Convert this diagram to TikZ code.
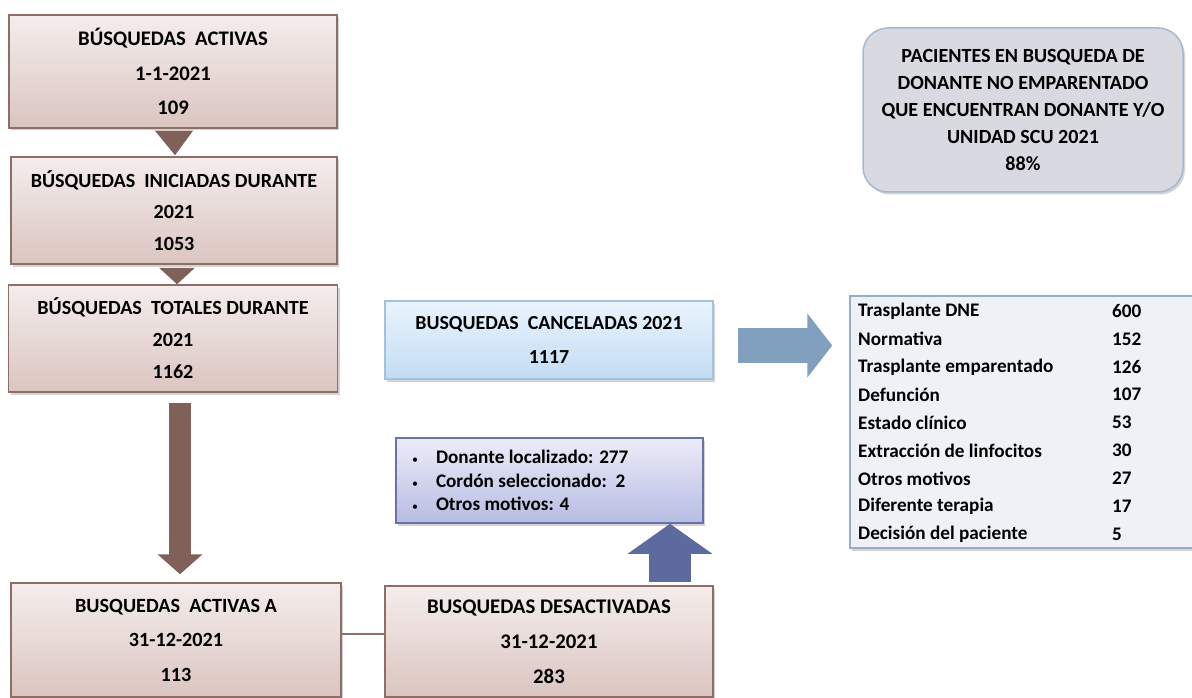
\documentclass[tikz,border=0pt]{standalone}
\usepackage{fontspec}
\setmainfont{Carlito}
\usetikzlibrary{calc,shadows,arrows.meta,positioning}

\definecolor{brtop}{HTML}{F4EDEC}
\definecolor{brbot}{HTML}{DBC5C0}
\definecolor{brline}{HTML}{8E6F68}
\definecolor{brarrow}{HTML}{7F615A}
\definecolor{cctop}{HTML}{EAF4FD}
\definecolor{ccbot}{HTML}{C2DCF3}
\definecolor{ccline}{HTML}{A3C2DE}
\definecolor{dntop}{HTML}{ECECF8}
\definecolor{dnbot}{HTML}{B7BCE3}
\definecolor{dnline}{HTML}{6872A8}
\definecolor{uparrow}{HTML}{5D6A9E}
\definecolor{rtarrow}{HTML}{819FBF}
\definecolor{pcfill}{HTML}{D9D9E2}
\definecolor{pcline}{HTML}{A6B9D0}
\definecolor{tbfill}{HTML}{EEF2F7}
\definecolor{tbline}{HTML}{97ADC6}

\tikzset{
  shad/.style={drop shadow={shadow xshift=2pt,shadow yshift=-2.5pt,opacity=.35}},
  tight/.style={execute at begin node={\spaceskip=0pt\xspaceskip=0pt\relax}},
  brbox/.style={draw=brline, line width=1.5pt, top color=brtop, bottom color=brbot,
    align=center, inner sep=0pt, shad, tight},
}

\begin{document}
\begin{tikzpicture}[x=1pt,y=-1pt]
\useasboundingbox (0,0) rectangle (1192,698);

% left column
\node[brbox, minimum width=328, minimum height=113,
  font=\bfseries\fontsize{20.7}{34.5}\selectfont] (act) at (173,71.5)
  {BÚSQUEDAS\ \ ACTIVAS\\1-1-2021\\109};
\node[brbox, minimum width=326, minimum height=107,
  font=\bfseries\fontsize{20.1}{31.5}\selectfont] (ini) at (174,210.5)
  {BÚSQUEDAS\ \ INICIADAS DURANTE\\2021\\1053};
\node[brbox, minimum width=329, minimum height=107,
  font=\bfseries\fontsize{20.1}{32}\selectfont] (tot) at (173,338.5)
  {BÚSQUEDAS\ \ TOTALES DURANTE\\2021\\1162};
\node[brbox, minimum width=330, minimum height=114,
  font=\bfseries\fontsize{20.2}{34.5}\selectfont] (fin) at (176,640)
  {BUSQUEDAS\ \ ACTIVAS A\\31-12-2021\\113};

% middle column
\node[brbox, minimum width=328, minimum height=111,
  font=\bfseries\fontsize{20.8}{35}\selectfont] (des) at (549,641.5)
  {BUSQUEDAS DESACTIVADAS\\31-12-2021\\283};
\node[draw=ccline, line width=1.5pt, top color=cctop, bottom color=ccbot, shad, tight,
  align=center, inner sep=0pt, minimum width=328, minimum height=78,
  font=\bfseries\fontsize{19.9}{34}\selectfont] (canc) at (549,340)
  {BUSQUEDAS\ \ CANCELADAS 2021\\1117};
\node[draw=dnline, line width=1.5pt, top color=dntop, bottom color=dnbot, shad, tight,
  align=left, inner xsep=16pt, inner ysep=0pt, text width=275pt, minimum height=85,
  font=\bfseries\fontsize{19.2}{23.5}\selectfont] (don) at (549.5,480.5)
  {\makebox[24pt][l]{\normalfont\fontsize{12}{12}\selectfont\textbullet}Donante localizado: 277\\
   \makebox[24pt][l]{\normalfont\fontsize{12}{12}\selectfont\textbullet}Cordón seleccionado:\ \ 2\\
   \makebox[24pt][l]{\normalfont\fontsize{12}{12}\selectfont\textbullet}Otros motivos: 4};

% right column
\node[draw=pcline, line width=1.5pt, fill=pcfill, rounded corners=25pt, shad, tight,
  align=center, inner sep=0pt, minimum width=320, minimum height=164,
  font=\bfseries\fontsize{20.1}{27}\selectfont] (pac) at (1023,110)
  {PACIENTES EN BUSQUEDA DE\\DONANTE NO EMPARENTADO\\QUE ENCUENTRAN DONANTE Y/O\\UNIDAD SCU 2021\\88\%};
\node[draw=tbline, line width=1.5pt, fill=tbfill, shad, inner sep=0pt,
  minimum width=350, minimum height=252] (tab) at (1025,422) {};
\foreach \lab/\val [count=\i] in {Trasplante DNE/600, Normativa/152,
    Trasplante emparentado/126, Defunción/107, Estado clínico/53,
    Extracción de linfocitos/30, Otros motivos/27, Diferente terapia/17,
    Decisión del paciente/5}
{
  \node[anchor=west, inner sep=0pt, font=\bfseries\fontsize{19.2}{20}\selectfont]
    (lab\i) at (858,{311+27.9*(\i-1)}) {\lab};
  \node[anchor=west, inner sep=0pt, font=\bfseries\fontsize{19.2}{20}\selectfont]
    (val\i) at (1112,{311+27.9*(\i-1)}) {\val};
}

% connectors
\fill[brarrow] ($(act.south)+(-18,2)$) -- ($(act.south)+(20,2)$) -- ($(ini.north)+(1,-1)$) -- cycle;
\fill[brarrow] ($(ini.south)+(-15,3)$) -- ($(ini.south)+(21,3)$) -- ($(tot.north)+(4,0)$) -- cycle;
\draw[brarrow, line width=22pt, -{Triangle[length=20pt,width=44pt]}]
  ($(tot.south)+(7,10)$) -- ($(fin.north)+(4,-8)$);
\draw[uparrow, line width=42pt, -{Triangle[length=30pt,width=83pt]}]
  ($(des.north)+(121,-3)$) -- ($(don.south)+(120.5,0)$);
\draw[rtarrow, line width=35pt, -{Triangle[length=25pt,width=63pt]}]
  ($(canc.east)+(24,5.5)$) -- ($(canc.east -| tab.west)+(-17,5.5)$);
\draw[brline, line width=1.5pt] ($(fin.east)+(0,-6)$) -- ($(des.west)+(0,-7.5)$);
\end{tikzpicture}
\end{document}
